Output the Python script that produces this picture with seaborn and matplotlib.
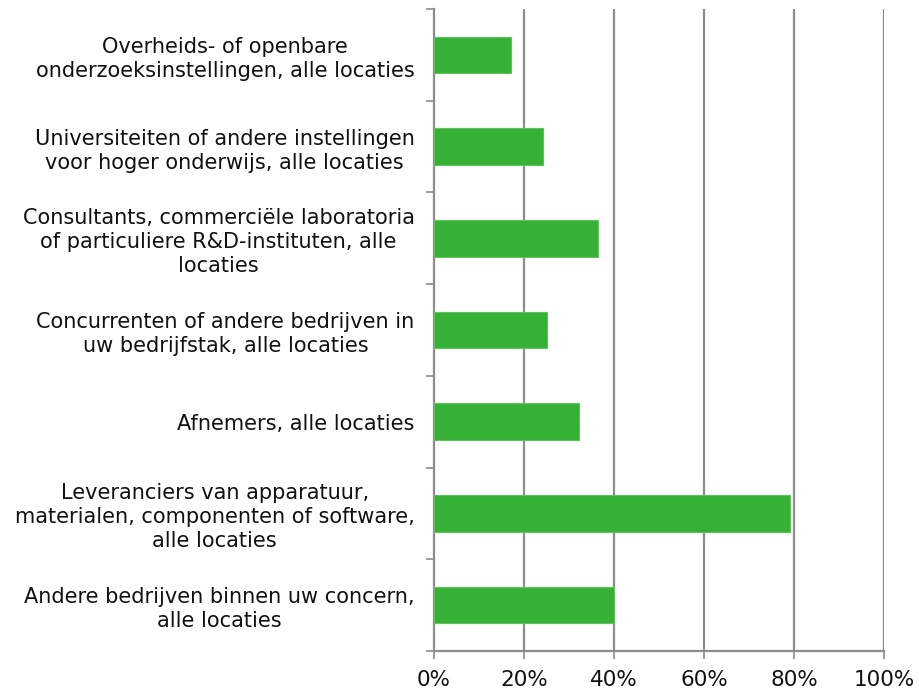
import pandas as pd
import matplotlib
matplotlib.use("Agg")
import matplotlib.pyplot as plt
import matplotlib.ticker as mticker
import seaborn as sns

# data
labels = [
    "Overheids- of openbare\nonderzoeksinstellingen, alle locaties",
    "Universiteiten of andere instellingen\nvoor hoger onderwijs, alle locaties",
    "Consultants, commerciële laboratoria\nof particuliere R&D-instituten, alle\nlocaties",
    "Concurrenten of andere bedrijven in\nuw bedrijfstak, alle locaties",
    "Afnemers, alle locaties",
    "Leveranciers van apparatuur,\nmaterialen, componenten of software,\nalle locaties",
    "Andere bedrijven binnen uw concern,\nalle locaties",
]
shares = [0.172, 0.241, 0.364, 0.250, 0.323, 0.790, 0.399]
x_ticks = [0, 0.2, 0.4, 0.6, 0.8, 1.0]

sns.set_style("white")
plt.rcParams["font.family"] = ["DejaVu Sans"]

df = pd.DataFrame({"label": labels, "share": shares})

fig = plt.figure(figsize=(9.19, 6.93), dpi=100)
ax = fig.add_axes([0.4723, 0.0606, 0.962 - 0.4723, 0.987 - 0.0606])

sns.barplot(data=df, x="share", y="label", orient="h", color="#36b136",
            saturation=1, width=0.4, edgecolor="#5cc45c", linewidth=0.8,
            ax=ax, zorder=3)

grid_c = "#8c8c8c"
ax.set_xlim(0, 1.0)
ax.set_ylim(len(labels) - 0.5, -0.5)
ax.set_xticks(x_ticks)
ax.xaxis.set_major_formatter(mticker.FuncFormatter(lambda v, _: f"{v*100:.0f}%"))
for xv in x_ticks[1:]:
    ax.axvline(xv, color=grid_c, linewidth=1.6, zorder=1)

ax.set_xlabel("")
ax.set_ylabel("")
ax.tick_params(axis="x", length=6, width=1.2, color=grid_c, labelsize=15.5,
               pad=8, direction="out", bottom=True)
ax.tick_params(axis="y", which="major", length=0, labelsize=15, pad=14)
ax.set_yticks([i - 0.5 for i in range(len(labels) + 1)], minor=True)
ax.tick_params(axis="y", which="minor", length=6, width=1.2, color=grid_c,
               direction="out", left=True)
for t in ax.get_yticklabels():
    t.set_multialignment("center")
    t.set_linespacing(1.25)
    t.set_color("#111111")
for t in ax.get_xticklabels():
    t.set_color("#111111")

for s in ["top", "right"]:
    ax.spines[s].set_visible(False)
for s in ["left", "bottom"]:
    ax.spines[s].set_color(grid_c)
    ax.spines[s].set_linewidth(1.6)

fig.savefig("out.png", dpi=100)
